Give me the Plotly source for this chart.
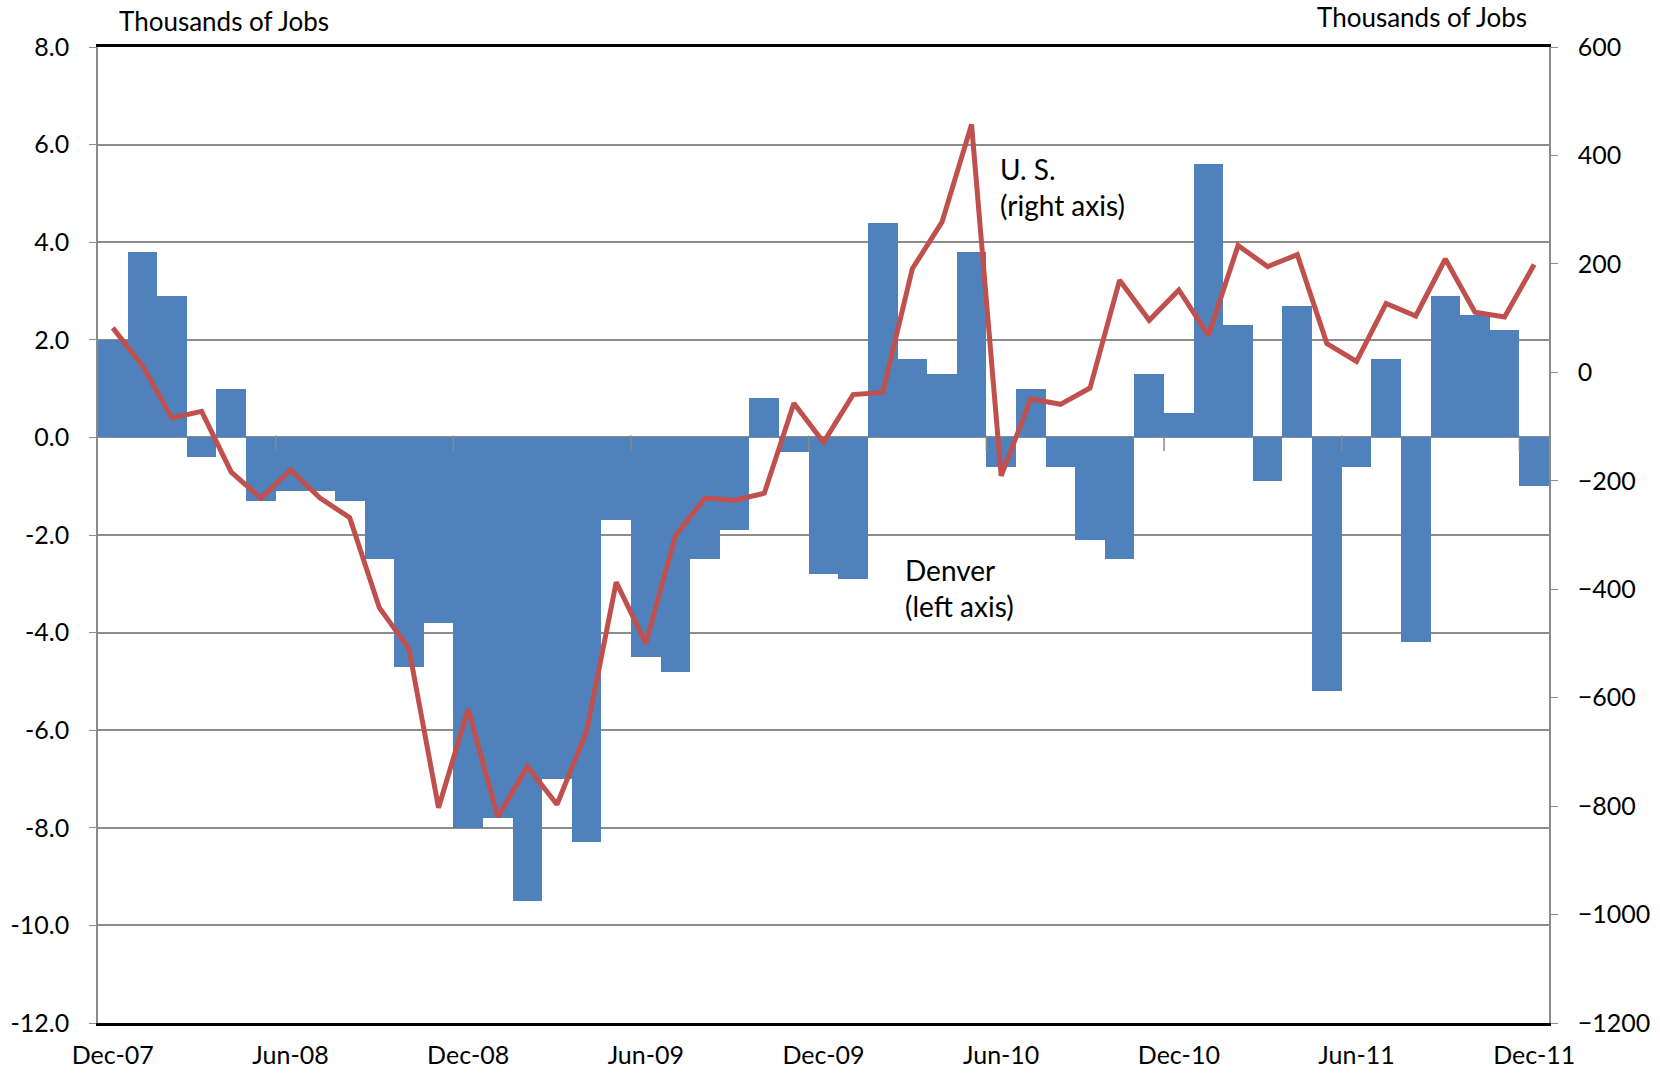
import plotly.graph_objects as go

# Monthly job change, Dec-07 .. Dec-11
months = ["Dec-07", "Jan-08", "Feb-08", "Mar-08", "Apr-08", "May-08", "Jun-08", "Jul-08",
          "Aug-08", "Sep-08", "Oct-08", "Nov-08", "Dec-08", "Jan-09", "Feb-09", "Mar-09",
          "Apr-09", "May-09", "Jun-09", "Jul-09", "Aug-09", "Sep-09", "Oct-09", "Nov-09",
          "Dec-09", "Jan-10", "Feb-10", "Mar-10", "Apr-10", "May-10", "Jun-10", "Jul-10",
          "Aug-10", "Sep-10", "Oct-10", "Nov-10", "Dec-10", "Jan-11", "Feb-11", "Mar-11",
          "Apr-11", "May-11", "Jun-11", "Jul-11", "Aug-11", "Sep-11", "Oct-11", "Nov-11",
          "Dec-11"]

# Denver (left axis, thousands)
denver = [2.0, 3.8, 2.9, -0.4, 1.0, -1.3, -1.1, -1.1, -1.3, -2.5, -4.7, -3.8,
          -8.0, -7.8, -9.5, -7.0, -8.3, -1.7, -4.5, -4.8, -2.5, -1.9, 0.8, -0.3,
          -2.8, -2.9, 4.4, 1.6, 1.3, 3.8, -0.6, 1.0, -0.6, -2.1, -2.5, 1.3,
          0.5, 5.6, 2.3, -0.9, 2.7, -5.2, -0.6, 1.6, -4.2, 2.9, 2.5, 2.2,
          -1.0]

# U.S. (right axis, thousands)
us = [82, 12, -84, -72, -184, -232, -180, -232, -268, -434, -510, -803,
      -621, -820, -727, -797, -662, -387, -500, -301, -232, -236, -223, -57,
      -129, -41, -37, 191, 277, 457, -191, -49, -59, -29, 170, 96,
      152, 68, 234, 195, 217, 53, 20, 127, 104, 209, 111, 102,
      199]

tick_idx = [0, 6, 12, 18, 24, 30, 36, 42, 48]
left_ticks = [8.0, 6.0, 4.0, 2.0, 0.0, -2.0, -4.0, -6.0, -8.0, -10.0, -12.0]
right_ticks = [600, 400, 200, 0, -200, -400, -600, -800, -1000, -1200]

idx = list(range(len(months)))
font = "Lato, 'Open Sans', sans-serif"

fig = go.Figure()
fig.add_trace(go.Bar(x=idx, y=denver, width=1, marker=dict(color="#4F81BD", line=dict(width=0)),
                     name="Denver"))
fig.add_trace(go.Scatter(x=idx, y=us, yaxis="y2", mode="lines",
                         line=dict(color="#C0504D", width=5), name="U.S."))

# small tick marks on the zero line, at six-month boundaries
marks = [i - 0.5 for i in tick_idx[1:]]
fig.add_trace(go.Scatter(x=marks, y=[-0.12] * len(marks), mode="markers", hoverinfo="skip",
                         marker=dict(symbol="line-ns", size=11, line=dict(color="#888888", width=1.5))))

fig.update_layout(
    width=1660, height=1075,
    margin=dict(l=98, r=111, t=47, b=52),
    paper_bgcolor="white", plot_bgcolor="white",
    showlegend=False, bargap=0,
    font=dict(family=font, size=25, color="black"),
    xaxis=dict(range=[-0.5, 48.5], tickmode="array", tickvals=tick_idx,
               ticktext=[months[i] for i in tick_idx], showgrid=False, zeroline=False,
               showline=True, linecolor="black", linewidth=3, mirror=True, ticks="",
               ticklabelstandoff=8, tickfont=dict(size=25), automargin=False),
    yaxis=dict(range=[-12, 8], tickmode="array", tickvals=left_ticks,
               ticktext=["%.1f" % v for v in left_ticks],
               showgrid=True, gridcolor="#8c8c8c", gridwidth=1.5, zeroline=False,
               showline=True, linecolor="#8c8c8c", linewidth=1.5, ticks="outside",
               ticklen=7, tickcolor="#8c8c8c", ticklabelstandoff=15, tickfont=dict(size=25),
               automargin=False),
    yaxis2=dict(range=[-1200, 600], overlaying="y", side="right", tickmode="array",
                tickvals=right_ticks, showgrid=False, zeroline=False,
                showline=True, linecolor="#8c8c8c", linewidth=1.5, ticks="outside",
                ticklen=7, tickcolor="#8c8c8c", ticklabelstandoff=15, tickfont=dict(size=25),
                automargin=False),
)

fig.add_annotation(text="Thousands of Jobs", xref="paper", yref="paper", x=0.0868, y=1.0,
                   yshift=26, xanchor="center", yanchor="middle", showarrow=False,
                   font=dict(size=26))
fig.add_annotation(text="Thousands of Jobs", xref="paper", yref="paper", x=0.9125, y=1.0,
                   yshift=30, xanchor="center", yanchor="middle", showarrow=False,
                   font=dict(size=26))
fig.add_annotation(text="U. S.<br>(right axis)", x=29.9, y=5.13, xanchor="left",
                   yanchor="middle", align="left", showarrow=False, font=dict(size=28))
fig.add_annotation(text="Denver<br>(left axis)", x=26.68, y=-3.08, xanchor="left",
                   yanchor="middle", align="left", showarrow=False, font=dict(size=28))

# drop the browser's default 8px body margin so the figure fills the window exactly
fig.write_html("out.html", config={"displayModeBar": False},
               post_script="document.body.style.margin='0';")
